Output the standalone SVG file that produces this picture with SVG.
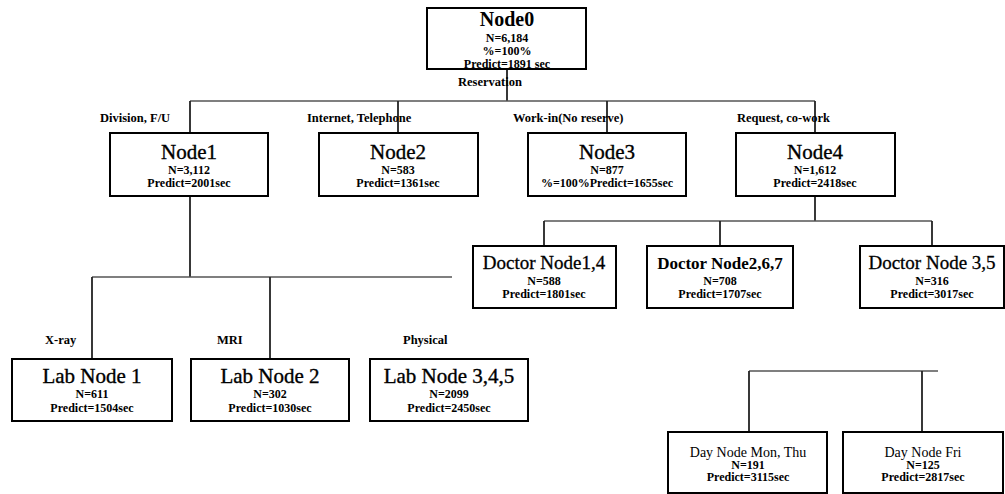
<svg xmlns="http://www.w3.org/2000/svg" width="1005" height="494" viewBox="0 0 1005 494" font-family="'Liberation Serif', 'DejaVu Serif', 'Times New Roman', Times, serif">
  <style>
    .box { fill: #fff; stroke: #000; stroke-width: 2; }
    .link { fill: none; stroke: #222; stroke-width: 1.8; }
    .bar { fill: none; stroke: #555; stroke-width: 1.3; }
    text { font-family: 'Liberation Serif', 'DejaVu Serif', 'Times New Roman', Times, serif; fill: #000; text-anchor: middle; }
    .title { font-size: 21px; }
    .title0 { font-size: 20px; font-weight: bold; }
    .ttl-m { font-size: 19px; stroke: #000; stroke-width: 0.3; }
    .ttl-b { font-size: 17px; font-weight: bold; }
    .ttl-s { font-size: 14px; }
    .heavy { stroke: #000; stroke-width: 0.35; }
    .info { font-size: 12px; font-weight: bold; }
    .lbl { font-size: 12.5px; font-weight: bold; text-anchor: start; }
  </style>

  <rect width="1005" height="494" fill="#fff"/>

  <!-- connectors -->
  <g id="connectors">
    <!-- root split -->
    <line class="link" x1="507" y1="69" x2="507" y2="101"/>
    <line class="bar" x1="190" y1="101" x2="815" y2="101"/>
    <line class="link" x1="190" y1="101" x2="190" y2="133"/>
    <line class="link" x1="398" y1="101" x2="398" y2="133"/>
    <line class="link" x1="607" y1="101" x2="607" y2="133"/>
    <line class="link" x1="815" y1="101" x2="815" y2="133"/>
    <!-- Node1 split -->
    <line class="link" x1="190" y1="196" x2="190" y2="277"/>
    <line class="bar" x1="92" y1="277" x2="452" y2="277"/>
    <line class="link" x1="92" y1="277" x2="92" y2="359"/>
    <line class="link" x1="270" y1="277" x2="270" y2="359"/>
    <!-- Node4 split -->
    <line class="link" x1="815" y1="196" x2="815" y2="221"/>
    <line class="bar" x1="544" y1="221" x2="932" y2="221"/>
    <line class="link" x1="544" y1="221" x2="544" y2="246"/>
    <line class="link" x1="720" y1="221" x2="720" y2="246"/>
    <line class="link" x1="932" y1="221" x2="932" y2="246"/>
    <!-- day split -->
    <line class="bar" x1="749" y1="371" x2="938" y2="371"/>
    <line class="link" x1="749" y1="371" x2="749" y2="432"/>
    <line class="link" x1="922" y1="371" x2="922" y2="432"/>
  </g>

  <!-- branch labels -->
  <g id="labels">
    <text class="lbl" x="458" y="86">Reservation</text>
    <text class="lbl" x="100" y="122">Division, F/U</text>
    <text class="lbl" x="307" y="122">Internet, Telephone</text>
    <text class="lbl" x="513" y="122">Work-in(No reserve)</text>
    <text class="lbl" x="737" y="122">Request, co-work</text>
    <text class="lbl" x="45" y="344">X-ray</text>
    <text class="lbl" x="217" y="344">MRI</text>
    <text class="lbl" x="403" y="344">Physical</text>
  </g>

  <g id="node0">
    <rect class="box" x="427" y="8" width="159" height="61"/>
    <text class="title0" x="507" y="26">Node0</text>
    <text class="info" x="507" y="42">N=6,184</text>
    <text class="info" x="507" y="55">%=100%</text>
    <text class="info" x="507" y="68">Predict=1891 sec</text>
  </g>

  <g id="node1">
    <rect class="box" x="110" y="133" width="158" height="63"/>
    <text class="title heavy" x="189" y="159">Node1</text>
    <text class="info" x="189" y="174">N=3,112</text>
    <text class="info" x="189" y="187">Predict=2001sec</text>
  </g>

  <g id="node2">
    <rect class="box" x="319" y="133" width="159" height="63"/>
    <text class="title heavy" x="398" y="159">Node2</text>
    <text class="info" x="398" y="174">N=583</text>
    <text class="info" x="398" y="187">Predict=1361sec</text>
  </g>

  <g id="node3">
    <rect class="box" x="528" y="133" width="158" height="63"/>
    <text class="title heavy" x="607" y="159">Node3</text>
    <text class="info" x="607" y="174">N=877</text>
    <text class="info" x="607" y="187">%=100%Predict=1655sec</text>
  </g>

  <g id="node4">
    <rect class="box" x="736" y="133" width="159" height="63"/>
    <text class="title heavy" x="815" y="159">Node4</text>
    <text class="info" x="815" y="174">N=1,612</text>
    <text class="info" x="815" y="187">Predict=2418sec</text>
  </g>

  <g id="doctor-node-1-4">
    <rect class="box" x="473" y="246" width="143" height="62"/>
    <text class="ttl-m" x="544" y="269">Doctor Node1,4</text>
    <text class="info" x="544" y="285">N=588</text>
    <text class="info" x="544" y="298">Predict=1801sec</text>
  </g>

  <g id="doctor-node-2-6-7">
    <rect class="box" x="647" y="246" width="146" height="62"/>
    <text class="ttl-b" x="720" y="269">Doctor Node2,6,7</text>
    <text class="info" x="720" y="285">N=708</text>
    <text class="info" x="720" y="298">Predict=1707sec</text>
  </g>

  <g id="doctor-node-3-5">
    <rect class="box" x="860" y="246" width="144" height="62"/>
    <text class="ttl-m" x="932" y="269">Doctor Node 3,5</text>
    <text class="info" x="932" y="285">N=316</text>
    <text class="info" x="932" y="298">Predict=3017sec</text>
  </g>

  <g id="lab-node-1">
    <rect class="box" x="12" y="359" width="160" height="62"/>
    <text class="title heavy" x="92" y="383">Lab Node 1</text>
    <text class="info" x="92" y="398">N=611</text>
    <text class="info" x="92" y="412">Predict=1504sec</text>
  </g>

  <g id="lab-node-2">
    <rect class="box" x="191" y="359" width="158" height="62"/>
    <text class="title heavy" x="270" y="383">Lab Node 2</text>
    <text class="info" x="270" y="398">N=302</text>
    <text class="info" x="270" y="412">Predict=1030sec</text>
  </g>

  <g id="lab-node-3-4-5">
    <rect class="box" x="370" y="359" width="158" height="62"/>
    <text class="title heavy" x="449" y="383">Lab Node 3,4,5</text>
    <text class="info" x="449" y="398">N=2099</text>
    <text class="info" x="449" y="412">Predict=2450sec</text>
  </g>

  <g id="day-node-mon-thu">
    <rect class="box" x="668" y="432" width="159" height="61"/>
    <text class="ttl-s" x="748" y="457">Day Node Mon, Thu</text>
    <text class="info" x="748" y="469">N=191</text>
    <text class="info" x="748" y="481">Predict=3115sec</text>
  </g>

  <g id="day-node-fri">
    <rect class="box" x="843" y="432" width="160" height="61"/>
    <text class="ttl-s" x="923" y="457">Day Node Fri</text>
    <text class="info" x="923" y="469">N=125</text>
    <text class="info" x="923" y="481">Predict=2817sec</text>
  </g>
</svg>
